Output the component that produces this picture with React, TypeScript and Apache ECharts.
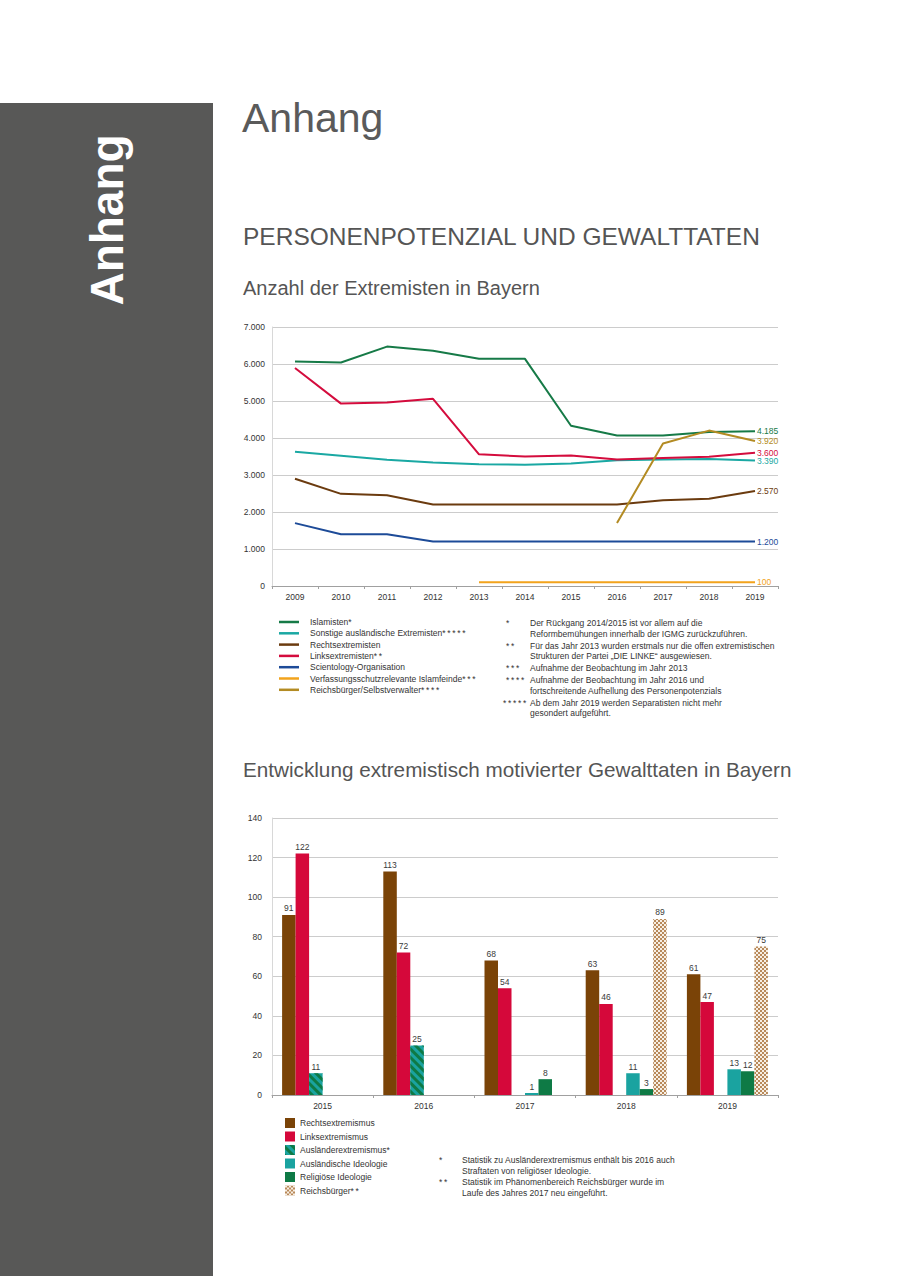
import React, { useEffect, useRef } from "react";
import * as echarts from "echarts";

// ---------- Data: Anzahl der Extremisten in Bayern ----------
const years = ["2009", "2010", "2011", "2012", "2013", "2014", "2015", "2016", "2017", "2018", "2019"];
const islamisten = [6070, 6040, 6470, 6360, 6140, 6140, 4330, 4070, 4070, 4160, 4185];
const sonstige = [3630, 3520, 3410, 3340, 3290, 3280, 3310, 3400, 3420, 3430, 3390];
const rechtsextremisten = [2900, 2490, 2450, 2200, 2200, 2200, 2200, 2200, 2320, 2360, 2570];
const linksextremisten = [5890, 4930, 4960, 5060, 3560, 3500, 3530, 3420, 3460, 3490, 3600];
const scientology = [1700, 1400, 1400, 1200, 1200, 1200, 1200, 1200, 1200, 1200, 1200];
const islamfeinde = [null, null, null, null, 100, 100, 100, 100, 100, 100, 100];
const reichsbuergerLine = [null, null, null, null, null, null, null, 1700, 3850, 4200, 3920];
const lineYTicks = { min: 0, max: 7000, interval: 1000 };

const S = "\u2009"; // thin space between stars
const lineNames = [
  "Islamisten*",
  `Sonstige ausländische Extremisten*${S}*${S}*${S}*${S}*`,
  "Rechtsextremisten",
  `Linksextremisten*${S}*`,
  "Scientology-Organisation",
  `Verfassungsschutzrelevante Islamfeinde*${S}*${S}*`,
  `Reichsbürger/Selbstverwalter*${S}*${S}*${S}*`,
];
const lineColors = ["#167a47", "#1aa8a3", "#6b3b0f", "#d40c3d", "#1d4b98", "#f2a31c", "#b38b23"];
const lineValues = [islamisten, sonstige, rechtsextremisten, linksextremisten, scientology, islamfeinde, reichsbuergerLine];

const lineNotes = [
  ["*", "Der Rückgang 2014/2015 ist vor allem auf die", "Reformbemühungen innerhalb der IGMG zurückzuführen."],
  [`*${S}*`, "Für das Jahr 2013 wurden erstmals nur die offen extremistischen", "Strukturen der Partei „DIE LINKE“ ausgewiesen."],
  [`*${S}*${S}*`, "Aufnahme der Beobachtung im Jahr 2013"],
  [`*${S}*${S}*${S}*`, "Aufnahme der Beobachtung im Jahr 2016 und", "fortschreitende Aufhellung des Personenpotenzials"],
  [`*${S}*${S}*${S}*${S}*`, "Ab dem Jahr 2019 werden Separatisten nicht mehr", "gesondert aufgeführt."],
];

// ---------- Data: Gewalttaten ----------
const barYears = ["2015", "2016", "2017", "2018", "2019"];
const rechtsBar = [91, 113, 68, 63, 61];
const linksBar = [122, 72, 54, 46, 47];
const auslaenderExtBar = [11, 25, null, null, null];
const auslIdeologieBar = [null, null, 1, 11, 13];
const religioeseBar = [null, null, 8, 3, 12];
const reichsbuergerBar = [null, null, null, 89, 75];
const barYTicks = { min: 0, max: 140, interval: 20 };

const barNames = [
  "Rechtsextremismus",
  "Linksextremismus",
  "Ausländerextremismus*",
  "Ausländische Ideologie",
  "Religiöse Ideologie",
  `Reichsbürger*${S}*`,
];
const barValues = [rechtsBar, linksBar, auslaenderExtBar, auslIdeologieBar, religioeseBar, reichsbuergerBar];

const barNotes = [
  ["*", "Statistik zu Ausländerextremismus enthält bis 2016 auch", "Straftaten von religiöser Ideologie."],
  [`*${S}*`, "Statistik im Phänomenbereich Reichsbürger wurde im", "Laufe des Jahres 2017 neu eingeführt."],
];

const FONT = "Liberation Sans";
const fmt = (v: number) => String(v).replace(/\B(?=(\d{3})+(?!\d))/g, ".");

export default function App() {
  const ref = useRef<HTMLDivElement>(null);

  useEffect(() => {
    if (!ref.current) return;
    const chart = echarts.init(ref.current, null, { renderer: "svg" });

    const lineSeries = lineNames.map((name, i) => ({
      name,
      type: "line",
      xAxisIndex: 0,
      yAxisIndex: 0,
      symbol: "none",
      connectNulls: false,
      lineStyle: { width: 2, color: lineColors[i] },
      itemStyle: { color: lineColors[i] },
      endLabel: {
        show: true,
        distance: 2,
        formatter: (p: any) => fmt(Array.isArray(p.value) ? p.value[1] : p.value),
        color: lineColors[i],
        fontSize: 8.5,
        fontFamily: FONT,
      },
      data: lineValues[i],
    }));

    const barStyles: any[] = [
      { color: "#7a4307" },
      { color: "#d5083a" },
      {
        color: "#1aa3a0",
        decal: {
          symbol: "rect",
          symbolSize: 1,
          dashArrayX: [1, 0],
          dashArrayY: [3, 3],
          rotation: Math.PI / 4,
          color: "#0e7a45",
        },
      },
      { color: "#1aa3a0" },
      { color: "#0e7a45" },
      {
        color: "#f7efe4",
        decal: {
          symbol: "rect",
          symbolSize: 1,
          dashArrayX: [[2, 2], [0, 2, 2, 0]],
          dashArrayY: [2, 0],
          rotation: 0,
          color: "#b8895a",
        },
      },
    ];

    const barSeries = barNames.map((name, i) => ({
      name,
      type: "bar",
      xAxisIndex: 1,
      yAxisIndex: 1,
      barWidth: 13.5,
      barGap: "0%",
      itemStyle: barStyles[i],
      label: {
        show: true,
        position: "top",
        distance: 2,
        fontSize: 8.5,
        color: "#3a3a3a",
        fontFamily: FONT,
      },
      data: barValues[i],
    }));

    const graphics: any[] = [
      { type: "rect", shape: { x: 0, y: 103, width: 213, height: 1173 }, style: { fill: "#585857" } },
      {
        type: "text",
        x: 107,
        y: 220,
        rotation: Math.PI / 2,
        style: {
          text: "Anhang",
          fontSize: 46,
          fontWeight: "bold",
          fontFamily: FONT,
          fill: "#ffffff",
          align: "center",
          verticalAlign: "middle",
        },
      },
      {
        type: "text",
        x: 242,
        y: 118,
        style: { text: "Anhang", fontSize: 41, fontFamily: FONT, fill: "#5a5a5a", verticalAlign: "middle" },
      },
      {
        type: "text",
        x: 243,
        y: 236,
        style: {
          text: "PERSONENPOTENZIAL UND GEWALTTATEN",
          fontSize: 24.5,
          fontFamily: FONT,
          fill: "#555555",
          verticalAlign: "middle",
        },
      },
      {
        type: "text",
        x: 243,
        y: 288,
        style: { text: "Anzahl der Extremisten in Bayern", fontSize: 20, fontFamily: FONT, fill: "#555555", verticalAlign: "middle" },
      },
      {
        type: "text",
        x: 243,
        y: 769,
        style: {
          text: "Entwicklung extremistisch motivierter Gewalttaten in Bayern",
          fontSize: 20.7,
          fontFamily: FONT,
          fill: "#555555",
          verticalAlign: "middle",
        },
      },
    ];

    const noteText = (x: number, y: number, text: string) => ({
      type: "text",
      x,
      y,
      style: { text, fontSize: 8.5, fontFamily: FONT, fill: "#333333", verticalAlign: "middle" },
    });

    let ny = 623;
    lineNotes.forEach((n) => {
      graphics.push(noteText(n[0].length > 8 ? 503 : 506, ny, n[0]));
      graphics.push(noteText(530, ny, n[1]));
      if (n[2]) {
        ny += 10.5;
        graphics.push(noteText(530, ny, n[2]));
      }
      ny += 12;
    });
    let by = 1160;
    barNotes.forEach((n) => {
      graphics.push(noteText(439, by, n[0]));
      graphics.push(noteText(462, by, n[1]));
      by += 11;
      graphics.push(noteText(462, by, n[2]));
      by += 11;
    });

    const axisLabelStyle = { fontSize: 8.5, color: "#333", fontFamily: FONT };

    chart.setOption({
      animation: false,
      textStyle: { fontFamily: FONT },
      grid: [
        { left: 272, right: 122, top: 327, bottom: 1276 - 586 },
        { left: 272, right: 122, top: 818, bottom: 1276 - 1095 },
      ],
      xAxis: [
        {
          type: "category",
          gridIndex: 0,
          data: years,
          axisLine: { lineStyle: { color: "#a0a0a0" } },
          axisTick: { show: true, length: 3, lineStyle: { color: "#a0a0a0" } },
          axisLabel: { ...axisLabelStyle, margin: 6 },
        },
        {
          type: "category",
          gridIndex: 1,
          data: barYears,
          axisLine: { lineStyle: { color: "#a0a0a0" } },
          axisTick: { show: true, length: 3, lineStyle: { color: "#a0a0a0" } },
          axisLabel: { ...axisLabelStyle, margin: 6 },
        },
      ],
      yAxis: [
        {
          type: "value",
          gridIndex: 0,
          ...lineYTicks,
          axisLine: { show: true, lineStyle: { color: "#d8d8d8" } },
          axisTick: { show: false },
          splitLine: { lineStyle: { color: "#cccccc" } },
          axisLabel: { ...axisLabelStyle, margin: 7, formatter: (v: number) => fmt(v) },
        },
        {
          type: "value",
          gridIndex: 1,
          ...barYTicks,
          axisLine: { show: true, lineStyle: { color: "#d8d8d8" } },
          axisTick: { show: false },
          splitLine: { lineStyle: { color: "#cccccc" } },
          axisLabel: { ...axisLabelStyle, margin: 10 },
        },
      ],
      legend: [
        {
          data: lineNames,
          orient: "vertical",
          left: 279,
          top: 617,
          icon: "rect",
          itemWidth: 20,
          itemHeight: 2.5,
          itemGap: 1.3,
          padding: 0,
          textStyle: { fontSize: 8.5, color: "#333", fontFamily: FONT, padding: [0, 0, 0, 6], lineHeight: 10 },
        },
        {
          data: barNames,
          orient: "vertical",
          left: 285,
          top: 1118,
          itemWidth: 10,
          itemHeight: 10,
          itemGap: 3.5,
          padding: 0,
          icon: "rect",
          textStyle: { fontSize: 8.5, color: "#333", fontFamily: FONT, lineHeight: 10 },
        },
      ],
      series: [...lineSeries, ...barSeries],
      graphic: graphics,
    });

    return () => chart.dispose();
  }, []);

  return (
    <div
      ref={ref}
      style={{ position: "absolute", left: 0, top: 0, width: 900, height: 1276, background: "#ffffff" }}
    />
  );
}
